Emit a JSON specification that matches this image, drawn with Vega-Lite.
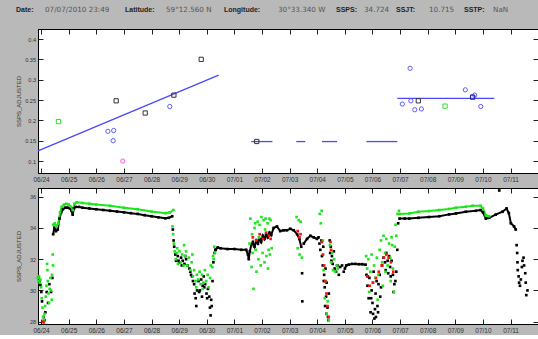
{
"$schema": "https://vega.github.io/schema/vega-lite/v6.json",
"background": "#b9b9b9",
"padding": {"left": 15, "top": 0, "right": 0, "bottom": 0},
"config": {
  "view": {"fill": "white", "stroke": "#000", "strokeWidth": 1},
  "axis": {"domainColor": "#000", "tickColor": "#222", "labelColor": "#333", "labelFont": "Liberation Sans", "titleFont": "Liberation Sans", "titleFontWeight": "normal", "titleColor": "#333", "grid": false, "tickSize": -5, "labelFontSize": 6.5, "titleFontSize": 6}
},
"datasets": {
  "topLines": [
    {"t": "2010-06-23T21:20", "v": 0.125, "seg": "trend"},
    {"t": "2010-06-30T10:20", "v": 0.311, "seg": "trend"},
    {"t": "2010-07-01T14:40", "v": 0.1478, "seg": "m1"},
    {"t": "2010-07-02T09:05", "v": 0.1478, "seg": "m1"},
    {"t": "2010-07-03T05:45", "v": 0.1478, "seg": "m2"},
    {"t": "2010-07-03T13:40", "v": 0.1478, "seg": "m2"},
    {"t": "2010-07-04T04:05", "v": 0.1478, "seg": "m3"},
    {"t": "2010-07-04T17:15", "v": 0.1478, "seg": "m3"},
    {"t": "2010-07-05T18:45", "v": 0.1478, "seg": "m4"},
    {"t": "2010-07-06T21:35", "v": 0.1478, "seg": "m4"},
    {"t": "2010-07-06T21:35", "v": 0.254, "seg": "m5"},
    {"t": "2010-07-10T09:50", "v": 0.254, "seg": "m5"}
  ],
  "topPts": [
    {"t": "2010-06-24T15:05", "v": 0.197, "s": "C"},
    {"t": "2010-06-26T17:15", "v": 0.248, "s": "A"},
    {"t": "2010-06-26T10:05", "v": 0.173, "s": "B"},
    {"t": "2010-06-26T15:05", "v": 0.175, "s": "B"},
    {"t": "2010-06-26T14:40", "v": 0.150, "s": "B"},
    {"t": "2010-06-26T23:00", "v": 0.100, "s": "D"},
    {"t": "2010-06-27T18:30", "v": 0.218, "s": "A"},
    {"t": "2010-06-28T15:50", "v": 0.234, "s": "B"},
    {"t": "2010-06-28T19:25", "v": 0.262, "s": "A"},
    {"t": "2010-06-29T19:10", "v": 0.350, "s": "A"},
    {"t": "2010-07-01T19:25", "v": 0.148, "s": "A"},
    {"t": "2010-07-07T08:40", "v": 0.328, "s": "B"},
    {"t": "2010-07-07T01:55", "v": 0.240, "s": "B"},
    {"t": "2010-07-07T09:20", "v": 0.248, "s": "B"},
    {"t": "2010-07-07T12:45", "v": 0.226, "s": "B"},
    {"t": "2010-07-07T18:30", "v": 0.228, "s": "B"},
    {"t": "2010-07-09T08:40", "v": 0.275, "s": "B"},
    {"t": "2010-07-09T16:50", "v": 0.262, "s": "B"},
    {"t": "2010-07-09T14:50", "v": 0.258, "s": "B"},
    {"t": "2010-07-09T22:05", "v": 0.234, "s": "B"},
    {"t": "2010-07-07T15:50", "v": 0.248, "s": "A"},
    {"t": "2010-07-08T15:05", "v": 0.235, "s": "C"},
    {"t": "2010-07-09T15:05", "v": 0.257, "s": "E"}
  ],
  "sal": [
    {"t": "2010-06-23T21:40", "v": 30.8, "s": "A"},
    {"t": "2010-06-23T22:35", "v": 30.6, "s": "A"},
    {"t": "2010-06-23T23:25", "v": 30.35, "s": "A"},
    {"t": "2010-06-24T00:15", "v": 29.9, "s": "A"},
    {"t": "2010-06-24T00:50", "v": 29.3, "s": "A"},
    {"t": "2010-06-24T02:00", "v": 28.3, "s": "A"},
    {"t": "2010-06-24T02:55", "v": 28.1, "s": "A"},
    {"t": "2010-06-24T03:45", "v": 28.6, "s": "A"},
    {"t": "2010-06-24T04:55", "v": 29.9, "s": "A"},
    {"t": "2010-06-24T06:05", "v": 29.2, "s": "A"},
    {"t": "2010-06-24T07:15", "v": 30.4, "s": "A"},
    {"t": "2010-06-24T08:40", "v": 29.9, "s": "A"},
    {"t": "2010-06-24T09:50", "v": 30.8, "s": "A"},
    {"t": "2010-06-24T10:30", "v": 33.6, "s": "A", "seg": "A1"},
    {"t": "2010-06-24T11:30", "v": 34.0, "s": "A", "seg": "A1"},
    {"t": "2010-06-24T13:00", "v": 33.8, "s": "A", "seg": "A1"},
    {"t": "2010-06-24T14:30", "v": 33.9, "s": "A", "seg": "A1"},
    {"t": "2010-06-24T16:00", "v": 34.6, "s": "A", "seg": "A1"},
    {"t": "2010-06-24T17:30", "v": 35.0, "s": "A", "seg": "A1"},
    {"t": "2010-06-24T19:00", "v": 35.2, "s": "A", "seg": "A1"},
    {"t": "2010-06-24T21:00", "v": 35.3, "s": "A", "seg": "A1"},
    {"t": "2010-06-24T23:00", "v": 35.3, "s": "A", "seg": "A1"},
    {"t": "2010-06-25T01:00", "v": 35.25, "s": "A", "seg": "A1"},
    {"t": "2010-06-25T02:30", "v": 35.1, "s": "A", "seg": "A1"},
    {"t": "2010-06-25T03:30", "v": 34.85, "s": "A", "seg": "A1"},
    {"t": "2010-06-25T04:30", "v": 35.25, "s": "A", "seg": "A1"},
    {"t": "2010-06-25T06:00", "v": 35.35, "s": "A", "seg": "A1"},
    {"t": "2010-06-25T09:00", "v": 35.35, "s": "A", "seg": "A1"},
    {"t": "2010-06-25T12:00", "v": 35.3, "s": "A", "seg": "A1"},
    {"t": "2010-06-25T18:00", "v": 35.25, "s": "A", "seg": "A1"},
    {"t": "2010-06-26T00:00", "v": 35.2, "s": "A", "seg": "A1"},
    {"t": "2010-06-26T06:00", "v": 35.15, "s": "A", "seg": "A1"},
    {"t": "2010-06-26T12:00", "v": 35.1, "s": "A", "seg": "A1"},
    {"t": "2010-06-26T18:00", "v": 35.05, "s": "A", "seg": "A1"},
    {"t": "2010-06-27T00:00", "v": 35.0, "s": "A", "seg": "A1"},
    {"t": "2010-06-27T06:00", "v": 34.95, "s": "A", "seg": "A1"},
    {"t": "2010-06-27T12:00", "v": 34.9, "s": "A", "seg": "A1"},
    {"t": "2010-06-27T18:00", "v": 34.82, "s": "A", "seg": "A1"},
    {"t": "2010-06-28T00:00", "v": 34.75, "s": "A", "seg": "A1"},
    {"t": "2010-06-28T06:00", "v": 34.68, "s": "A", "seg": "A1"},
    {"t": "2010-06-28T12:00", "v": 34.62, "s": "A", "seg": "A1"},
    {"t": "2010-06-28T15:00", "v": 34.65, "s": "A", "seg": "A1"},
    {"t": "2010-06-28T18:00", "v": 34.75, "s": "A", "seg": "A1"},
    {"t": "2010-06-28T18:30", "v": 33.9, "s": "A"},
    {"t": "2010-06-28T19:10", "v": 33.2, "s": "A"},
    {"t": "2010-06-28T19:40", "v": 32.8, "s": "A"},
    {"t": "2010-06-28T20:40", "v": 32.3, "s": "A"},
    {"t": "2010-06-28T21:20", "v": 31.9, "s": "A"},
    {"t": "2010-06-28T22:50", "v": 32.2, "s": "A"},
    {"t": "2010-06-28T23:30", "v": 31.9, "s": "A"},
    {"t": "2010-06-29T00:15", "v": 31.8, "s": "A"},
    {"t": "2010-06-29T01:40", "v": 32.1, "s": "A"},
    {"t": "2010-06-29T02:20", "v": 31.6, "s": "A"},
    {"t": "2010-06-29T03:05", "v": 31.9, "s": "A"},
    {"t": "2010-06-29T04:35", "v": 31.7, "s": "A"},
    {"t": "2010-06-29T05:15", "v": 32.2, "s": "A"},
    {"t": "2010-06-29T06:00", "v": 32.0, "s": "A"},
    {"t": "2010-06-29T07:25", "v": 31.6, "s": "A"},
    {"t": "2010-06-29T08:55", "v": 31.4, "s": "A"},
    {"t": "2010-06-29T09:40", "v": 31.2, "s": "A"},
    {"t": "2010-06-29T10:20", "v": 31.0, "s": "A"},
    {"t": "2010-06-29T11:10", "v": 30.9, "s": "A"},
    {"t": "2010-06-29T12:00", "v": 30.6, "s": "A"},
    {"t": "2010-06-29T13:00", "v": 30.4, "s": "A"},
    {"t": "2010-06-29T13:25", "v": 29.8, "s": "A"},
    {"t": "2010-06-29T14:20", "v": 29.5, "s": "A"},
    {"t": "2010-06-29T14:55", "v": 29.0, "s": "A"},
    {"t": "2010-06-29T15:35", "v": 30.0, "s": "A"},
    {"t": "2010-06-29T16:50", "v": 30.6, "s": "A"},
    {"t": "2010-06-29T17:20", "v": 29.9, "s": "A"},
    {"t": "2010-06-29T18:00", "v": 30.0, "s": "A"},
    {"t": "2010-06-29T19:10", "v": 30.7, "s": "A"},
    {"t": "2010-06-29T19:50", "v": 29.6, "s": "A"},
    {"t": "2010-06-29T20:25", "v": 30.3, "s": "A"},
    {"t": "2010-06-29T21:20", "v": 30.9, "s": "A"},
    {"t": "2010-06-29T21:50", "v": 30.2, "s": "A"},
    {"t": "2010-06-29T22:35", "v": 30.4, "s": "A"},
    {"t": "2010-06-29T23:45", "v": 29.8, "s": "A"},
    {"t": "2010-06-30T00:20", "v": 29.5, "s": "A"},
    {"t": "2010-06-30T01:00", "v": 30.1, "s": "A"},
    {"t": "2010-06-30T02:10", "v": 29.6, "s": "A"},
    {"t": "2010-06-30T02:45", "v": 28.9, "s": "A"},
    {"t": "2010-06-30T03:20", "v": 28.4, "s": "A"},
    {"t": "2010-06-30T03:50", "v": 29.4, "s": "A"},
    {"t": "2010-06-30T04:20", "v": 29.0, "s": "A"},
    {"t": "2010-06-30T05:00", "v": 30.6, "s": "A"},
    {"t": "2010-06-30T05:45", "v": 31.8, "s": "A"},
    {"t": "2010-06-30T06:45", "v": 32.4, "s": "A"},
    {"t": "2010-06-30T07:25", "v": 32.6, "s": "A"},
    {"t": "2010-06-30T07:45", "v": 32.6, "s": "A", "seg": "A2"},
    {"t": "2010-06-30T09:30", "v": 32.75, "s": "A", "seg": "A2"},
    {"t": "2010-06-30T12:00", "v": 32.7, "s": "A", "seg": "A2"},
    {"t": "2010-06-30T18:00", "v": 32.65, "s": "A", "seg": "A2"},
    {"t": "2010-07-01T00:00", "v": 32.65, "s": "A", "seg": "A2"},
    {"t": "2010-07-01T06:00", "v": 32.6, "s": "A", "seg": "A2"},
    {"t": "2010-07-01T10:15", "v": 32.6, "s": "A", "seg": "A2"},
    {"t": "2010-07-01T11:45", "v": 32.3, "s": "A", "seg": "A2"},
    {"t": "2010-07-01T12:30", "v": 32.0, "s": "A", "seg": "A2"},
    {"t": "2010-07-01T13:25", "v": 32.5, "s": "A", "seg": "A2"},
    {"t": "2010-07-01T14:40", "v": 32.9, "s": "A", "seg": "A2"},
    {"t": "2010-07-01T16:05", "v": 33.1, "s": "A", "seg": "A2"},
    {"t": "2010-07-01T17:30", "v": 32.8, "s": "A", "seg": "A2"},
    {"t": "2010-07-01T19:00", "v": 33.2, "s": "A", "seg": "A2"},
    {"t": "2010-07-01T20:25", "v": 33.0, "s": "A", "seg": "A2"},
    {"t": "2010-07-01T21:50", "v": 33.3, "s": "A", "seg": "A2"},
    {"t": "2010-07-01T23:15", "v": 33.1, "s": "A", "seg": "A2"},
    {"t": "2010-07-02T00:45", "v": 33.5, "s": "A", "seg": "A2"},
    {"t": "2010-07-02T02:10", "v": 33.3, "s": "A", "seg": "A2"},
    {"t": "2010-07-02T03:35", "v": 33.6, "s": "A", "seg": "A2"},
    {"t": "2010-07-02T05:00", "v": 33.4, "s": "A", "seg": "A2"},
    {"t": "2010-07-02T06:30", "v": 33.7, "s": "A", "seg": "A2"},
    {"t": "2010-07-02T08:00", "v": 33.55, "s": "A", "seg": "A2"},
    {"t": "2010-07-02T10:05", "v": 34.0, "s": "A", "seg": "A2"},
    {"t": "2010-07-02T13:00", "v": 34.1, "s": "A", "seg": "A2"},
    {"t": "2010-07-02T15:50", "v": 33.8, "s": "A", "seg": "A2"},
    {"t": "2010-07-02T18:45", "v": 33.85, "s": "A", "seg": "A2"},
    {"t": "2010-07-02T21:35", "v": 33.85, "s": "A", "seg": "A2"},
    {"t": "2010-07-03T00:30", "v": 33.95, "s": "A", "seg": "A2"},
    {"t": "2010-07-03T03:35", "v": 33.85, "s": "A", "seg": "A2"},
    {"t": "2010-07-03T06:30", "v": 33.6, "s": "A", "seg": "A2"},
    {"t": "2010-07-03T08:25", "v": 33.3, "s": "A", "seg": "A2"},
    {"t": "2010-07-03T10:05", "v": 32.8, "s": "A", "seg": "A2"},
    {"t": "2010-07-03T10:50", "v": 31.1, "s": "A"},
    {"t": "2010-07-03T11:00", "v": 29.3, "s": "A"},
    {"t": "2010-07-03T12:15", "v": 33.0, "s": "A", "seg": "A4"},
    {"t": "2010-07-03T15:05", "v": 33.3, "s": "A", "seg": "A4"},
    {"t": "2010-07-03T18:00", "v": 33.5, "s": "A", "seg": "A4"},
    {"t": "2010-07-03T20:55", "v": 33.4, "s": "A", "seg": "A4"},
    {"t": "2010-07-03T23:45", "v": 33.3, "s": "A", "seg": "A4"},
    {"t": "2010-07-04T01:10", "v": 33.4, "s": "A", "seg": "A4"},
    {"t": "2010-07-04T01:55", "v": 33.0, "s": "A"},
    {"t": "2010-07-04T02:40", "v": 32.6, "s": "A"},
    {"t": "2010-07-04T03:35", "v": 33.2, "s": "A"},
    {"t": "2010-07-04T04:05", "v": 32.2, "s": "A"},
    {"t": "2010-07-04T04:50", "v": 31.6, "s": "A"},
    {"t": "2010-07-04T05:15", "v": 32.8, "s": "A"},
    {"t": "2010-07-04T05:40", "v": 30.6, "s": "A"},
    {"t": "2010-07-04T06:00", "v": 31.0, "s": "A"},
    {"t": "2010-07-04T06:30", "v": 30.2, "s": "A"},
    {"t": "2010-07-04T06:50", "v": 29.0, "s": "A"},
    {"t": "2010-07-04T07:10", "v": 31.4, "s": "A"},
    {"t": "2010-07-04T07:40", "v": 29.6, "s": "A"},
    {"t": "2010-07-04T07:55", "v": 28.5, "s": "A"},
    {"t": "2010-07-04T08:10", "v": 30.5, "s": "A"},
    {"t": "2010-07-04T08:55", "v": 28.9, "s": "A"},
    {"t": "2010-07-04T09:20", "v": 28.3, "s": "A"},
    {"t": "2010-07-04T09:40", "v": 28.1, "s": "A"},
    {"t": "2010-07-04T10:05", "v": 29.8, "s": "A"},
    {"t": "2010-07-04T10:50", "v": 33.2, "s": "A"},
    {"t": "2010-07-04T11:15", "v": 32.4, "s": "A"},
    {"t": "2010-07-04T11:45", "v": 32.8, "s": "A"},
    {"t": "2010-07-04T12:20", "v": 31.9, "s": "A"},
    {"t": "2010-07-04T12:45", "v": 32.2, "s": "A"},
    {"t": "2010-07-04T13:25", "v": 31.7, "s": "A"},
    {"t": "2010-07-04T14:25", "v": 32.5, "s": "A"},
    {"t": "2010-07-04T15:05", "v": 31.4, "s": "A"},
    {"t": "2010-07-04T16:20", "v": 31.2, "s": "A"},
    {"t": "2010-07-04T17:30", "v": 31.6, "s": "A"},
    {"t": "2010-07-04T18:45", "v": 31.0, "s": "A"},
    {"t": "2010-07-04T19:55", "v": 31.5, "s": "A"},
    {"t": "2010-07-04T21:35", "v": 31.6, "s": "A"},
    {"t": "2010-07-04T23:00", "v": 31.2, "s": "A"},
    {"t": "2010-07-05T00:00", "v": 31.4, "s": "A", "seg": "A5"},
    {"t": "2010-07-05T01:10", "v": 31.6, "s": "A", "seg": "A5"},
    {"t": "2010-07-05T03:20", "v": 31.65, "s": "A", "seg": "A5"},
    {"t": "2010-07-05T06:15", "v": 31.7, "s": "A", "seg": "A5"},
    {"t": "2010-07-05T09:05", "v": 31.7, "s": "A", "seg": "A5"},
    {"t": "2010-07-05T12:15", "v": 31.68, "s": "A", "seg": "A5"},
    {"t": "2010-07-05T15:05", "v": 31.68, "s": "A", "seg": "A5"},
    {"t": "2010-07-05T18:00", "v": 31.65, "s": "A", "seg": "A5"},
    {"t": "2010-07-05T18:45", "v": 31.0, "s": "A"},
    {"t": "2010-07-05T19:40", "v": 30.3, "s": "A"},
    {"t": "2010-07-05T20:00", "v": 30.9, "s": "A"},
    {"t": "2010-07-05T20:40", "v": 29.5, "s": "A"},
    {"t": "2010-07-05T21:20", "v": 30.8, "s": "A"},
    {"t": "2010-07-05T22:20", "v": 28.6, "s": "A"},
    {"t": "2010-07-05T22:50", "v": 29.5, "s": "A"},
    {"t": "2010-07-05T23:15", "v": 30.0, "s": "A"},
    {"t": "2010-07-06T00:00", "v": 29.2, "s": "A"},
    {"t": "2010-07-06T00:30", "v": 28.5, "s": "A"},
    {"t": "2010-07-06T01:00", "v": 31.2, "s": "A"},
    {"t": "2010-07-06T01:40", "v": 28.2, "s": "A"},
    {"t": "2010-07-06T02:10", "v": 28.8, "s": "A"},
    {"t": "2010-07-06T02:40", "v": 29.8, "s": "A"},
    {"t": "2010-07-06T03:00", "v": 28.3, "s": "A"},
    {"t": "2010-07-06T03:35", "v": 30.6, "s": "A"},
    {"t": "2010-07-06T04:20", "v": 29.0, "s": "A"},
    {"t": "2010-07-06T04:50", "v": 28.6, "s": "A"},
    {"t": "2010-07-06T05:15", "v": 30.4, "s": "A"},
    {"t": "2010-07-06T06:15", "v": 31.0, "s": "A"},
    {"t": "2010-07-06T06:45", "v": 29.6, "s": "A"},
    {"t": "2010-07-06T07:25", "v": 30.2, "s": "A"},
    {"t": "2010-07-06T08:25", "v": 31.6, "s": "A"},
    {"t": "2010-07-06T09:35", "v": 32.1, "s": "A"},
    {"t": "2010-07-06T10:50", "v": 31.8, "s": "A"},
    {"t": "2010-07-06T11:30", "v": 31.3, "s": "A"},
    {"t": "2010-07-06T12:00", "v": 32.4, "s": "A"},
    {"t": "2010-07-06T13:10", "v": 31.9, "s": "A"},
    {"t": "2010-07-06T13:40", "v": 31.1, "s": "A"},
    {"t": "2010-07-06T14:25", "v": 32.2, "s": "A"},
    {"t": "2010-07-06T15:20", "v": 31.5, "s": "A"},
    {"t": "2010-07-06T15:50", "v": 30.9, "s": "A"},
    {"t": "2010-07-06T16:35", "v": 31.9, "s": "A"},
    {"t": "2010-07-06T17:45", "v": 31.0, "s": "A"},
    {"t": "2010-07-06T18:20", "v": 29.9, "s": "A"},
    {"t": "2010-07-06T19:00", "v": 30.4, "s": "A"},
    {"t": "2010-07-06T19:55", "v": 30.6, "s": "A"},
    {"t": "2010-07-06T20:40", "v": 31.2, "s": "A"},
    {"t": "2010-07-06T21:35", "v": 32.6, "s": "A"},
    {"t": "2010-07-06T22:20", "v": 34.3, "s": "A"},
    {"t": "2010-07-06T23:30", "v": 34.6, "s": "A", "seg": "A6"},
    {"t": "2010-07-07T04:00", "v": 34.6, "s": "A", "seg": "A6"},
    {"t": "2010-07-07T08:00", "v": 34.6, "s": "A", "seg": "A6"},
    {"t": "2010-07-07T16:00", "v": 34.65, "s": "A", "seg": "A6"},
    {"t": "2010-07-08T01:00", "v": 34.7, "s": "A", "seg": "A6"},
    {"t": "2010-07-08T10:00", "v": 34.75, "s": "A", "seg": "A6"},
    {"t": "2010-07-08T18:30", "v": 34.87, "s": "A", "seg": "A6"},
    {"t": "2010-07-09T00:30", "v": 34.93, "s": "A", "seg": "A6"},
    {"t": "2010-07-09T09:00", "v": 35.04, "s": "A", "seg": "A6"},
    {"t": "2010-07-09T17:45", "v": 35.1, "s": "A", "seg": "A6"},
    {"t": "2010-07-09T22:00", "v": 35.15, "s": "A", "seg": "A6"},
    {"t": "2010-07-10T00:00", "v": 35.0, "s": "A", "seg": "A6"},
    {"t": "2010-07-10T02:30", "v": 34.6, "s": "A", "seg": "A6"},
    {"t": "2010-07-10T05:30", "v": 34.65, "s": "A", "seg": "A6"},
    {"t": "2010-07-10T11:00", "v": 34.85, "s": "A", "seg": "A6"},
    {"t": "2010-07-10T17:00", "v": 35.04, "s": "A", "seg": "A6"},
    {"t": "2010-07-10T20:30", "v": 35.25, "s": "A", "seg": "A6"},
    {"t": "2010-07-10T22:30", "v": 34.95, "s": "A", "seg": "A6"},
    {"t": "2010-07-11T00:15", "v": 34.3, "s": "A", "seg": "A6"},
    {"t": "2010-07-11T03:00", "v": 34.1, "s": "A", "seg": "A6"},
    {"t": "2010-07-11T04:30", "v": 33.9, "s": "A", "seg": "A6"},
    {"t": "2010-07-10T14:10", "v": 36.4, "s": "A"},
    {"t": "2010-07-11T05:15", "v": 32.9, "s": "A"},
    {"t": "2010-07-11T05:45", "v": 32.4, "s": "A"},
    {"t": "2010-07-11T06:00", "v": 31.8, "s": "A"},
    {"t": "2010-07-11T06:15", "v": 31.3, "s": "A"},
    {"t": "2010-07-11T07:00", "v": 30.9, "s": "A"},
    {"t": "2010-07-11T07:25", "v": 30.5, "s": "A"},
    {"t": "2010-07-11T08:10", "v": 30.3, "s": "A"},
    {"t": "2010-07-11T08:55", "v": 30.7, "s": "A"},
    {"t": "2010-07-11T09:50", "v": 31.5, "s": "A"},
    {"t": "2010-07-11T10:20", "v": 31.9, "s": "A"},
    {"t": "2010-07-11T11:15", "v": 32.1, "s": "A"},
    {"t": "2010-07-11T11:45", "v": 31.6, "s": "A"},
    {"t": "2010-07-11T12:45", "v": 31.1, "s": "A"},
    {"t": "2010-07-11T13:10", "v": 30.5, "s": "A"},
    {"t": "2010-07-11T13:40", "v": 29.7, "s": "A"},
    {"t": "2010-07-11T14:40", "v": 30.0, "s": "A"},
    {"t": "2010-06-23T21:10", "v": 30.8, "s": "B"},
    {"t": "2010-06-23T21:40", "v": 30.6, "s": "B"},
    {"t": "2010-06-23T22:15", "v": 30.9, "s": "B"},
    {"t": "2010-06-23T22:50", "v": 30.5, "s": "B"},
    {"t": "2010-06-23T23:25", "v": 30.7, "s": "B"},
    {"t": "2010-06-24T00:00", "v": 30.2, "s": "B"},
    {"t": "2010-06-24T00:35", "v": 29.5, "s": "B"},
    {"t": "2010-06-24T01:10", "v": 28.9, "s": "B"},
    {"t": "2010-06-24T01:45", "v": 28.3, "s": "B"},
    {"t": "2010-06-24T02:20", "v": 28.1, "s": "B"},
    {"t": "2010-06-24T02:55", "v": 28.5, "s": "B"},
    {"t": "2010-06-24T03:30", "v": 29.0, "s": "B"},
    {"t": "2010-06-24T04:05", "v": 29.6, "s": "B"},
    {"t": "2010-06-24T04:40", "v": 30.3, "s": "B"},
    {"t": "2010-06-24T05:15", "v": 31.7, "s": "B"},
    {"t": "2010-06-24T05:30", "v": 31.3, "s": "B"},
    {"t": "2010-06-24T05:50", "v": 30.6, "s": "B"},
    {"t": "2010-06-24T06:25", "v": 29.8, "s": "B"},
    {"t": "2010-06-24T06:55", "v": 29.2, "s": "B"},
    {"t": "2010-06-24T07:30", "v": 30.1, "s": "B"},
    {"t": "2010-06-24T08:05", "v": 30.8, "s": "B"},
    {"t": "2010-06-24T08:40", "v": 30.0, "s": "B"},
    {"t": "2010-06-24T09:15", "v": 29.4, "s": "B"},
    {"t": "2010-06-24T09:35", "v": 31.0, "s": "B"},
    {"t": "2010-06-24T10:10", "v": 32.3, "s": "B"},
    {"t": "2010-06-24T10:25", "v": 31.6, "s": "B"},
    {"t": "2010-06-24T10:30", "v": 34.2, "s": "B", "seg": "B1"},
    {"t": "2010-06-24T12:00", "v": 34.3, "s": "B", "seg": "B1"},
    {"t": "2010-06-24T13:30", "v": 34.1, "s": "B", "seg": "B1"},
    {"t": "2010-06-24T15:00", "v": 34.3, "s": "B", "seg": "B1"},
    {"t": "2010-06-24T16:30", "v": 35.0, "s": "B", "seg": "B1"},
    {"t": "2010-06-24T18:00", "v": 35.35, "s": "B", "seg": "B1"},
    {"t": "2010-06-24T20:00", "v": 35.5, "s": "B", "seg": "B1"},
    {"t": "2010-06-24T22:00", "v": 35.55, "s": "B", "seg": "B1"},
    {"t": "2010-06-25T00:00", "v": 35.5, "s": "B", "seg": "B1"},
    {"t": "2010-06-25T02:00", "v": 35.35, "s": "B", "seg": "B1"},
    {"t": "2010-06-25T03:30", "v": 35.15, "s": "B", "seg": "B1"},
    {"t": "2010-06-25T05:00", "v": 35.55, "s": "B", "seg": "B1"},
    {"t": "2010-06-25T07:00", "v": 35.65, "s": "B", "seg": "B1"},
    {"t": "2010-06-25T12:00", "v": 35.6, "s": "B", "seg": "B1"},
    {"t": "2010-06-25T18:00", "v": 35.55, "s": "B", "seg": "B1"},
    {"t": "2010-06-26T00:00", "v": 35.5, "s": "B", "seg": "B1"},
    {"t": "2010-06-26T12:00", "v": 35.42, "s": "B", "seg": "B1"},
    {"t": "2010-06-27T00:00", "v": 35.3, "s": "B", "seg": "B1"},
    {"t": "2010-06-27T12:00", "v": 35.2, "s": "B", "seg": "B1"},
    {"t": "2010-06-28T00:00", "v": 35.05, "s": "B", "seg": "B1"},
    {"t": "2010-06-28T12:00", "v": 34.95, "s": "B", "seg": "B1"},
    {"t": "2010-06-28T16:00", "v": 35.0, "s": "B", "seg": "B1"},
    {"t": "2010-06-28T19:00", "v": 35.15, "s": "B", "seg": "B1"},
    {"t": "2010-06-28T18:15", "v": 34.1, "s": "B"},
    {"t": "2010-06-28T18:45", "v": 33.6, "s": "B"},
    {"t": "2010-06-28T19:25", "v": 33.0, "s": "B"},
    {"t": "2010-06-28T20:10", "v": 32.5, "s": "B"},
    {"t": "2010-06-28T21:05", "v": 32.0, "s": "B"},
    {"t": "2010-06-28T21:50", "v": 32.4, "s": "B"},
    {"t": "2010-06-28T22:20", "v": 32.7, "s": "B"},
    {"t": "2010-06-28T23:00", "v": 31.7, "s": "B"},
    {"t": "2010-06-29T00:15", "v": 32.5, "s": "B"},
    {"t": "2010-06-29T01:25", "v": 31.8, "s": "B"},
    {"t": "2010-06-29T02:40", "v": 32.3, "s": "B"},
    {"t": "2010-06-29T03:50", "v": 31.6, "s": "B"},
    {"t": "2010-06-29T04:20", "v": 32.9, "s": "B"},
    {"t": "2010-06-29T05:00", "v": 32.2, "s": "B"},
    {"t": "2010-06-29T06:00", "v": 32.5, "s": "B"},
    {"t": "2010-06-29T07:10", "v": 31.6, "s": "B"},
    {"t": "2010-06-29T08:25", "v": 32.1, "s": "B"},
    {"t": "2010-06-29T09:35", "v": 31.3, "s": "B"},
    {"t": "2010-06-29T10:50", "v": 31.8, "s": "B"},
    {"t": "2010-06-29T11:30", "v": 32.3, "s": "B"},
    {"t": "2010-06-29T12:00", "v": 30.9, "s": "B"},
    {"t": "2010-06-29T13:00", "v": 31.3, "s": "B"},
    {"t": "2010-06-29T14:10", "v": 30.6, "s": "B"},
    {"t": "2010-06-29T14:50", "v": 30.2, "s": "B"},
    {"t": "2010-06-29T15:20", "v": 31.0, "s": "B"},
    {"t": "2010-06-29T16:35", "v": 30.7, "s": "B"},
    {"t": "2010-06-29T17:45", "v": 31.2, "s": "B"},
    {"t": "2010-06-29T18:45", "v": 30.4, "s": "B"},
    {"t": "2010-06-29T19:55", "v": 31.0, "s": "B"},
    {"t": "2010-06-29T20:30", "v": 30.1, "s": "B"},
    {"t": "2010-06-29T21:05", "v": 30.5, "s": "B"},
    {"t": "2010-06-29T22:20", "v": 31.3, "s": "B"},
    {"t": "2010-06-29T23:30", "v": 30.6, "s": "B"},
    {"t": "2010-06-30T00:45", "v": 31.0, "s": "B"},
    {"t": "2010-06-30T01:40", "v": 30.2, "s": "B"},
    {"t": "2010-06-30T02:55", "v": 30.8, "s": "B"},
    {"t": "2010-06-30T03:30", "v": 31.6, "s": "B"},
    {"t": "2010-06-30T04:50", "v": 31.5, "s": "B"},
    {"t": "2010-06-30T05:30", "v": 32.2, "s": "B"},
    {"t": "2010-06-30T06:00", "v": 32.0, "s": "B"},
    {"t": "2010-06-30T06:30", "v": 32.8, "s": "B"},
    {"t": "2010-06-30T07:10", "v": 32.4, "s": "B"},
    {"t": "2010-07-01T13:10", "v": 33.0, "s": "B"},
    {"t": "2010-07-01T13:55", "v": 34.6, "s": "B"},
    {"t": "2010-07-01T14:55", "v": 31.5, "s": "B"},
    {"t": "2010-07-01T15:20", "v": 33.6, "s": "B"},
    {"t": "2010-07-01T15:50", "v": 32.4, "s": "B"},
    {"t": "2010-07-01T16:35", "v": 30.1, "s": "B"},
    {"t": "2010-07-01T17:30", "v": 34.0, "s": "B"},
    {"t": "2010-07-01T18:00", "v": 34.3, "s": "B"},
    {"t": "2010-07-01T18:30", "v": 32.6, "s": "B"},
    {"t": "2010-07-01T19:10", "v": 31.2, "s": "B"},
    {"t": "2010-07-01T20:10", "v": 34.4, "s": "B"},
    {"t": "2010-07-01T20:55", "v": 32.0, "s": "B"},
    {"t": "2010-07-01T21:20", "v": 33.4, "s": "B"},
    {"t": "2010-07-01T21:50", "v": 34.2, "s": "B"},
    {"t": "2010-07-01T22:50", "v": 31.6, "s": "B"},
    {"t": "2010-07-01T23:30", "v": 34.7, "s": "B"},
    {"t": "2010-07-02T00:30", "v": 32.4, "s": "B"},
    {"t": "2010-07-02T01:25", "v": 34.5, "s": "B"},
    {"t": "2010-07-02T02:10", "v": 31.8, "s": "B"},
    {"t": "2010-07-02T02:40", "v": 33.9, "s": "B"},
    {"t": "2010-07-02T03:05", "v": 34.6, "s": "B"},
    {"t": "2010-07-02T03:50", "v": 32.2, "s": "B"},
    {"t": "2010-07-02T04:50", "v": 34.3, "s": "B"},
    {"t": "2010-07-02T05:10", "v": 31.4, "s": "B"},
    {"t": "2010-07-02T05:45", "v": 32.6, "s": "B"},
    {"t": "2010-07-02T06:30", "v": 34.6, "s": "B"},
    {"t": "2010-07-02T06:50", "v": 32.3, "s": "B"},
    {"t": "2010-07-02T07:25", "v": 34.5, "s": "B"},
    {"t": "2010-07-02T08:25", "v": 32.7, "s": "B"},
    {"t": "2010-07-03T06:00", "v": 34.7, "s": "B"},
    {"t": "2010-07-03T07:00", "v": 32.7, "s": "B"},
    {"t": "2010-07-03T07:55", "v": 34.5, "s": "B"},
    {"t": "2010-07-03T08:40", "v": 32.3, "s": "B"},
    {"t": "2010-07-03T09:35", "v": 34.4, "s": "B"},
    {"t": "2010-07-03T10:35", "v": 32.1, "s": "B"},
    {"t": "2010-07-04T02:10", "v": 34.9, "s": "B"},
    {"t": "2010-07-04T03:05", "v": 34.3, "s": "B"},
    {"t": "2010-07-04T03:50", "v": 35.1, "s": "B"},
    {"t": "2010-07-04T04:50", "v": 33.2, "s": "B"},
    {"t": "2010-07-04T05:30", "v": 31.3, "s": "B"},
    {"t": "2010-07-04T06:30", "v": 29.5, "s": "B"},
    {"t": "2010-07-04T07:25", "v": 30.6, "s": "B"},
    {"t": "2010-07-04T08:10", "v": 28.5, "s": "B"},
    {"t": "2010-07-04T09:05", "v": 29.3, "s": "B"},
    {"t": "2010-07-04T10:05", "v": 28.1, "s": "B"},
    {"t": "2010-07-04T11:00", "v": 32.9, "s": "B"},
    {"t": "2010-07-04T12:00", "v": 31.8, "s": "B"},
    {"t": "2010-07-04T13:00", "v": 32.4, "s": "B"},
    {"t": "2010-07-04T13:40", "v": 31.3, "s": "B"},
    {"t": "2010-07-04T14:40", "v": 32.0, "s": "B"},
    {"t": "2010-07-04T15:35", "v": 31.2, "s": "B"},
    {"t": "2010-07-04T16:50", "v": 31.6, "s": "B"},
    {"t": "2010-07-04T17:45", "v": 31.4, "s": "B"},
    {"t": "2010-07-05T18:30", "v": 32.2, "s": "B"},
    {"t": "2010-07-05T19:25", "v": 31.4, "s": "B"},
    {"t": "2010-07-05T20:25", "v": 32.0, "s": "B"},
    {"t": "2010-07-05T21:05", "v": 29.9, "s": "B"},
    {"t": "2010-07-05T22:05", "v": 31.2, "s": "B"},
    {"t": "2010-07-05T23:15", "v": 32.3, "s": "B"},
    {"t": "2010-07-06T00:15", "v": 30.5, "s": "B"},
    {"t": "2010-07-06T01:25", "v": 31.6, "s": "B"},
    {"t": "2010-07-06T02:40", "v": 30.8, "s": "B"},
    {"t": "2010-07-06T03:50", "v": 32.1, "s": "B"},
    {"t": "2010-07-06T04:30", "v": 29.4, "s": "B"},
    {"t": "2010-07-06T05:00", "v": 31.0, "s": "B"},
    {"t": "2010-07-06T06:15", "v": 32.6, "s": "B"},
    {"t": "2010-07-06T07:25", "v": 33.2, "s": "B"},
    {"t": "2010-07-06T08:25", "v": 31.8, "s": "B"},
    {"t": "2010-07-06T09:00", "v": 30.3, "s": "B"},
    {"t": "2010-07-06T09:35", "v": 33.5, "s": "B"},
    {"t": "2010-07-06T10:50", "v": 32.4, "s": "B"},
    {"t": "2010-07-06T11:20", "v": 31.2, "s": "B"},
    {"t": "2010-07-06T12:00", "v": 33.3, "s": "B"},
    {"t": "2010-07-06T13:10", "v": 31.6, "s": "B"},
    {"t": "2010-07-06T14:25", "v": 33.0, "s": "B"},
    {"t": "2010-07-06T15:20", "v": 32.1, "s": "B"},
    {"t": "2010-07-06T15:50", "v": 30.6, "s": "B"},
    {"t": "2010-07-06T16:35", "v": 33.4, "s": "B"},
    {"t": "2010-07-06T17:10", "v": 32.9, "s": "B"},
    {"t": "2010-07-06T17:45", "v": 31.4, "s": "B"},
    {"t": "2010-07-06T18:45", "v": 29.9, "s": "B"},
    {"t": "2010-07-06T19:25", "v": 32.8, "s": "B"},
    {"t": "2010-07-06T20:00", "v": 34.2, "s": "B"},
    {"t": "2010-07-06T20:40", "v": 33.5, "s": "B"},
    {"t": "2010-07-06T21:50", "v": 34.9, "s": "B"},
    {"t": "2010-07-06T23:00", "v": 35.1, "s": "B"},
    {"t": "2010-07-06T23:30", "v": 34.9, "s": "B", "seg": "B2"},
    {"t": "2010-07-07T08:00", "v": 34.93, "s": "B", "seg": "B2"},
    {"t": "2010-07-07T16:00", "v": 35.04, "s": "B", "seg": "B2"},
    {"t": "2010-07-08T01:00", "v": 35.08, "s": "B", "seg": "B2"},
    {"t": "2010-07-08T10:00", "v": 35.15, "s": "B", "seg": "B2"},
    {"t": "2010-07-08T18:30", "v": 35.22, "s": "B", "seg": "B2"},
    {"t": "2010-07-09T00:30", "v": 35.3, "s": "B", "seg": "B2"},
    {"t": "2010-07-09T09:00", "v": 35.36, "s": "B", "seg": "B2"},
    {"t": "2010-07-09T15:00", "v": 35.42, "s": "B", "seg": "B2"},
    {"t": "2010-07-09T22:00", "v": 35.42, "s": "B", "seg": "B2"},
    {"t": "2010-07-10T00:00", "v": 35.25, "s": "B", "seg": "B2"},
    {"t": "2010-07-10T02:30", "v": 34.8, "s": "B", "seg": "B2"},
    {"t": "2010-07-10T05:30", "v": 34.75, "s": "B", "seg": "B2"},
    {"t": "2010-06-24T01:45", "v": 28.0, "s": "C"},
    {"t": "2010-06-24T02:20", "v": 27.95, "s": "C"},
    {"t": "2010-07-01T16:00", "v": 33.4, "s": "C"},
    {"t": "2010-07-01T19:00", "v": 33.2, "s": "C"},
    {"t": "2010-07-01T22:00", "v": 33.6, "s": "C"},
    {"t": "2010-07-02T01:00", "v": 33.3, "s": "C"},
    {"t": "2010-07-02T03:30", "v": 33.7, "s": "C"},
    {"t": "2010-07-02T06:00", "v": 33.5, "s": "C"},
    {"t": "2010-07-02T07:30", "v": 33.3, "s": "C"},
    {"t": "2010-07-03T07:00", "v": 33.8, "s": "C"},
    {"t": "2010-07-03T08:30", "v": 33.4, "s": "C"},
    {"t": "2010-07-03T09:30", "v": 33.6, "s": "C"},
    {"t": "2010-07-04T04:00", "v": 33.1, "s": "C"},
    {"t": "2010-07-04T05:00", "v": 32.3, "s": "C"},
    {"t": "2010-07-04T06:00", "v": 31.6, "s": "C"},
    {"t": "2010-07-04T07:00", "v": 30.6, "s": "C"},
    {"t": "2010-07-04T08:00", "v": 29.8, "s": "C"},
    {"t": "2010-07-04T09:00", "v": 29.0, "s": "C"},
    {"t": "2010-07-04T10:00", "v": 28.3, "s": "C"},
    {"t": "2010-07-04T11:30", "v": 33.1, "s": "C"},
    {"t": "2010-07-04T12:00", "v": 32.6, "s": "C"},
    {"t": "2010-07-05T19:30", "v": 30.9, "s": "C"},
    {"t": "2010-07-05T21:30", "v": 30.3, "s": "C"},
    {"t": "2010-07-06T00:30", "v": 30.5, "s": "C"},
    {"t": "2010-07-06T03:00", "v": 30.8, "s": "C"},
    {"t": "2010-07-06T05:30", "v": 31.2, "s": "C"},
    {"t": "2010-07-06T08:00", "v": 31.6, "s": "C"},
    {"t": "2010-07-06T10:00", "v": 32.1, "s": "C"},
    {"t": "2010-07-06T12:00", "v": 32.3, "s": "C"},
    {"t": "2010-07-06T14:00", "v": 32.1, "s": "C"},
    {"t": "2010-07-06T16:00", "v": 31.8, "s": "C"},
    {"t": "2010-07-06T18:00", "v": 31.2, "s": "C"}
  ]
},
"columns": 1,
"align": "none",
"spacing": 9,
"concat": [
  {
    "spacing": 0,
    "bounds": "flush",
    "hconcat": [
      {"width": 29, "height": 19, "view": {"fill": null, "stroke": null}, "data": {"values": [{"txt": "Date:"}]}, "mark": {"type": "text", "align": "left", "baseline": "middle", "dx": -22, "font": "Liberation Sans", "fontWeight": "bold", "fontSize": 7, "color": "#222"}, "encoding": {"text": {"field": "txt"}, "x": {"field": "txt", "type": "nominal", "axis": null, "scale": {"type": "point", "padding": 0, "align": 0}}}},
      {"width": 80, "height": 19, "view": {"fill": null, "stroke": null}, "data": {"values": [{"txt": "07/07/2010 23:49"}]}, "mark": {"type": "text", "align": "left", "baseline": "middle", "dx": -22, "font": "DejaVu Sans", "fontSize": 7.2, "color": "#555"}, "encoding": {"text": {"field": "txt"}, "x": {"field": "txt", "type": "nominal", "axis": null, "scale": {"type": "point", "padding": 0, "align": 0}}}},
      {"width": 41, "height": 19, "view": {"fill": null, "stroke": null}, "data": {"values": [{"txt": "Latitude:"}]}, "mark": {"type": "text", "align": "left", "baseline": "middle", "dx": -22, "font": "Liberation Sans", "fontWeight": "bold", "fontSize": 7, "color": "#222"}, "encoding": {"text": {"field": "txt"}, "x": {"field": "txt", "type": "nominal", "axis": null, "scale": {"type": "point", "padding": 0, "align": 0}}}},
      {"width": 58, "height": 19, "view": {"fill": null, "stroke": null}, "data": {"values": [{"txt": "59°12.560 N"}]}, "mark": {"type": "text", "align": "left", "baseline": "middle", "dx": -22, "font": "DejaVu Sans", "fontSize": 7.2, "color": "#555"}, "encoding": {"text": {"field": "txt"}, "x": {"field": "txt", "type": "nominal", "axis": null, "scale": {"type": "point", "padding": 0, "align": 0}}}},
      {"width": 54, "height": 19, "view": {"fill": null, "stroke": null}, "data": {"values": [{"txt": "Longitude:"}]}, "mark": {"type": "text", "align": "left", "baseline": "middle", "dx": -22, "font": "Liberation Sans", "fontWeight": "bold", "fontSize": 7, "color": "#222"}, "encoding": {"text": {"field": "txt"}, "x": {"field": "txt", "type": "nominal", "axis": null, "scale": {"type": "point", "padding": 0, "align": 0}}}},
      {"width": 58, "height": 19, "view": {"fill": null, "stroke": null}, "data": {"values": [{"txt": "30°33.340 W"}]}, "mark": {"type": "text", "align": "left", "baseline": "middle", "dx": -22, "font": "DejaVu Sans", "fontSize": 7.2, "color": "#555"}, "encoding": {"text": {"field": "txt"}, "x": {"field": "txt", "type": "nominal", "axis": null, "scale": {"type": "point", "padding": 0, "align": 0}}}},
      {"width": 28, "height": 19, "view": {"fill": null, "stroke": null}, "data": {"values": [{"txt": "SSPS:"}]}, "mark": {"type": "text", "align": "left", "baseline": "middle", "dx": -22, "font": "Liberation Sans", "fontWeight": "bold", "fontSize": 7, "color": "#222"}, "encoding": {"text": {"field": "txt"}, "x": {"field": "txt", "type": "nominal", "axis": null, "scale": {"type": "point", "padding": 0, "align": 0}}}},
      {"width": 32, "height": 19, "view": {"fill": null, "stroke": null}, "data": {"values": [{"txt": "34.724"}]}, "mark": {"type": "text", "align": "left", "baseline": "middle", "dx": -22, "font": "DejaVu Sans", "fontSize": 7.2, "color": "#555"}, "encoding": {"text": {"field": "txt"}, "x": {"field": "txt", "type": "nominal", "axis": null, "scale": {"type": "point", "padding": 0, "align": 0}}}},
      {"width": 33, "height": 19, "view": {"fill": null, "stroke": null}, "data": {"values": [{"txt": "SSJT:"}]}, "mark": {"type": "text", "align": "left", "baseline": "middle", "dx": -22, "font": "Liberation Sans", "fontWeight": "bold", "fontSize": 7, "color": "#222"}, "encoding": {"text": {"field": "txt"}, "x": {"field": "txt", "type": "nominal", "axis": null, "scale": {"type": "point", "padding": 0, "align": 0}}}},
      {"width": 35, "height": 19, "view": {"fill": null, "stroke": null}, "data": {"values": [{"txt": "10.715"}]}, "mark": {"type": "text", "align": "left", "baseline": "middle", "dx": -22, "font": "DejaVu Sans", "fontSize": 7.2, "color": "#555"}, "encoding": {"text": {"field": "txt"}, "x": {"field": "txt", "type": "nominal", "axis": null, "scale": {"type": "point", "padding": 0, "align": 0}}}},
      {"width": 29, "height": 19, "view": {"fill": null, "stroke": null}, "data": {"values": [{"txt": "SSTP:"}]}, "mark": {"type": "text", "align": "left", "baseline": "middle", "dx": -22, "font": "Liberation Sans", "fontWeight": "bold", "fontSize": 7, "color": "#222"}, "encoding": {"text": {"field": "txt"}, "x": {"field": "txt", "type": "nominal", "axis": null, "scale": {"type": "point", "padding": 0, "align": 0}}}},
      {"width": 23, "height": 19, "view": {"fill": null, "stroke": null}, "data": {"values": [{"txt": "NaN"}]}, "mark": {"type": "text", "align": "left", "baseline": "middle", "dx": -22, "font": "DejaVu Sans", "fontSize": 7.2, "color": "#555"}, "encoding": {"text": {"field": "txt"}, "x": {"field": "txt", "type": "nominal", "axis": null, "scale": {"type": "point", "padding": 0, "align": 0}}}}
    ]
  },
  {
    "spacing": 3,
    "resolve": {"scale": {"color": "independent", "shape": "independent"}},
    "vconcat": [
      {
        "width": 500, "height": 144,
        "resolve": {"axis": {"x": "independent", "y": "independent"}},
        "layer": [
          {
            "data": {"name": "topLines"},
            "mark": {"type": "line", "color": "#4848ff", "strokeWidth": 1.3},
            "encoding": {
              "x": {"field": "t", "type": "temporal", "scale": {"domain": [{"year": 2010, "month": 6, "date": 23, "hours": 21, "minutes": 20}, {"year": 2010, "month": 7, "date": 11, "hours": 23, "minutes": 50}], "nice": false}, "axis": {"orient": "bottom", "format": "%m/%d", "tickCount": {"interval": "day", "step": 1}, "title": null, "labelPadding": 8.5, "labelFlush": false, "labelOverlap": false}},
              "y": {"field": "v", "type": "quantitative", "scale": {"domain": [0.0705, 0.4246], "nice": false, "zero": false}, "axis": {"orient": "left", "values": [0.1, 0.15, 0.2, 0.25, 0.3, 0.35, 0.4], "format": ".2~f", "title": "SSPS_ADJUSTED", "titleX": -19.3, "titleBaseline": "middle", "labelPadding": 7.5, "labelFontSize": 5.5}},
              "detail": {"field": "seg"}
            }
          },
          {
            "data": {"name": "topPts"},
            "mark": {"type": "point", "filled": false, "size": 18, "strokeWidth": 1, "opacity": 1},
            "encoding": {
              "x": {"field": "t", "type": "temporal", "axis": {"orient": "top", "labels": false, "tickCount": {"interval": "day", "step": 1}, "title": null}},
              "y": {"field": "v", "type": "quantitative", "axis": {"orient": "right", "labels": false, "values": [0.1, 0.15, 0.2, 0.25, 0.3, 0.35, 0.4], "title": null}},
              "shape": {"field": "s", "type": "nominal", "scale": {"domain": ["A", "B", "C", "D", "E"], "range": ["square", "circle", "square", "circle", "square"]}, "legend": null},
              "color": {"field": "s", "type": "nominal", "scale": {"domain": ["A", "B", "C", "D", "E"], "range": ["#333333", "#5c5cff", "#33dd33", "#ff55ff", "#1c1c8c"]}, "legend": null}
            }
          }
        ]
      },
      {
        "width": 500, "height": 136,
        "data": {"name": "sal"},
        "resolve": {"axis": {"x": "independent", "y": "independent"}},
        "layer": [
          {
            "transform": [{"filter": "isValid(datum.seg)"}],
            "mark": {"type": "line", "strokeWidth": 2},
            "encoding": {
              "x": {"field": "t", "type": "temporal", "scale": {"domain": [{"year": 2010, "month": 6, "date": 23, "hours": 21, "minutes": 20}, {"year": 2010, "month": 7, "date": 11, "hours": 23, "minutes": 50}], "nice": false}, "axis": {"orient": "top", "labels": false, "tickCount": {"interval": "day", "step": 1}, "title": null}},
              "y": {"field": "v", "type": "quantitative", "scale": {"domain": [27.85, 36.56], "nice": false, "zero": false}, "axis": {"orient": "right", "labels": false, "values": [28, 30, 32, 34, 36], "title": null}},
              "color": {"field": "s", "type": "nominal", "scale": {"domain": ["A", "B", "C"], "range": ["#000000", "#1ee61e", "#ff1010"]}, "legend": null},
              "detail": {"field": "seg"}
            }
          },
          {
            "mark": {"type": "square", "size": 7, "opacity": 1},
            "encoding": {
              "x": {"field": "t", "type": "temporal", "axis": {"orient": "bottom", "format": "%m/%d", "tickCount": {"interval": "day", "step": 1}, "title": null, "labelPadding": 8.5, "labelFlush": false, "labelOverlap": false}},
              "y": {"field": "v", "type": "quantitative", "axis": {"orient": "left", "values": [28, 30, 32, 34, 36], "title": "SSPS_ADJUSTED", "titleX": -19.3, "titleBaseline": "middle", "labelPadding": 7.5, "labelFontSize": 5.5}},
              "color": {"field": "s", "type": "nominal", "legend": null}
            }
          }
        ]
      }
    ]
  }
]
}
